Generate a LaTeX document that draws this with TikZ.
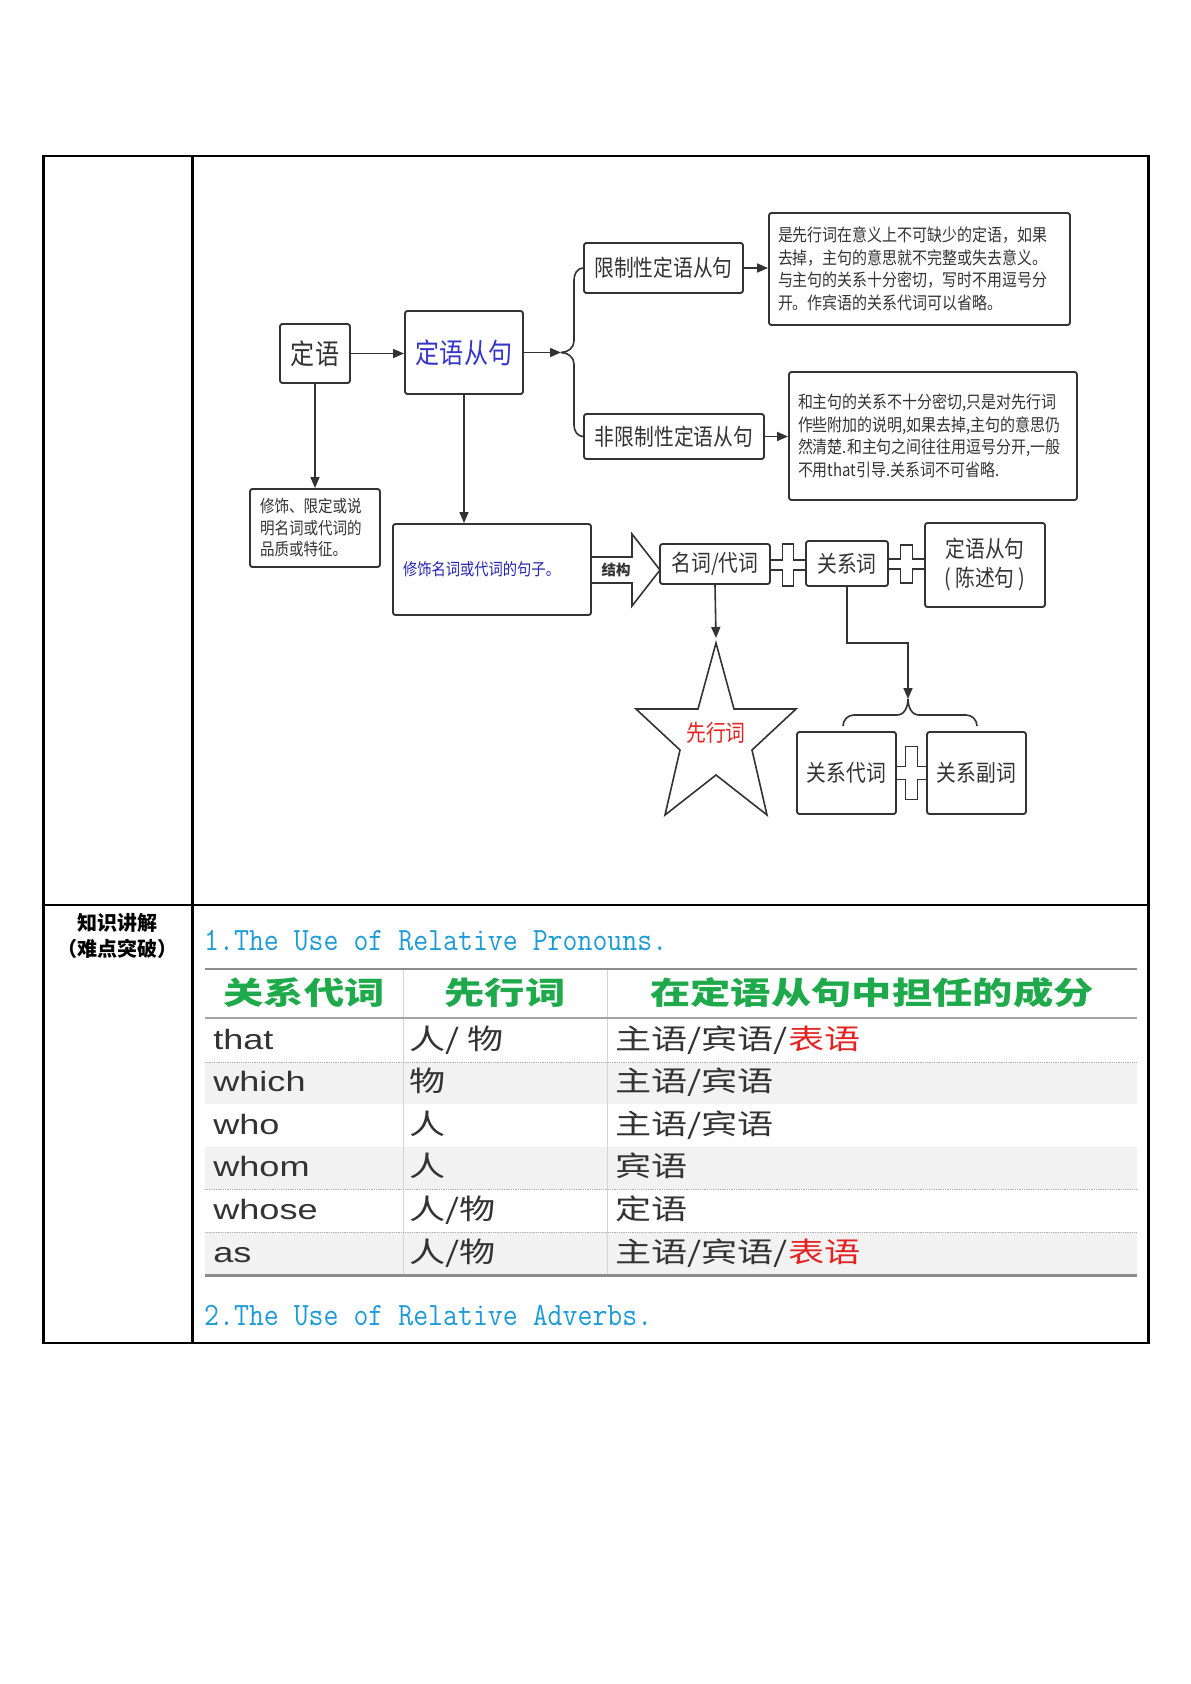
\documentclass[tikz,border=0pt]{standalone}
\usepackage{fontspec}
\setmainfont{Liberation Sans}
\newfontfamily\cjk{Noto Sans CJK SC}
\newfontfamily\cjkn{Noto Sans CJK SC}[FakeStretch=0.86]
\usetikzlibrary{arrows.meta}
\definecolor{bordc}{HTML}{333333}
\definecolor{txtc}{HTML}{333333}
\definecolor{blueA}{HTML}{3535C8}
\definecolor{blueB}{HTML}{2424B4}
\definecolor{redA}{HTML}{E52222}
\definecolor{greenH}{HTML}{1EAA4B}
\definecolor{titleC}{HTML}{1E9BD7}
\definecolor{rowg}{HTML}{F2F2F2}
\definecolor{lineg}{HTML}{8C8C8C}
\definecolor{colg}{HTML}{D4D4D4}
\tikzset{
  box/.style={draw=bordc, line width=1.9pt, rounded corners=2.5pt, inner sep=0pt, text=txtc, font=\cjkn\fontsize{23}{27}\selectfont},
  bigbox/.style={box, font=\cjkn\fontsize{28}{32}\selectfont},
  desc/.style={box, align=left, inner xsep=9pt, font=\cjkn\fontsize{17.4}{22.5}\selectfont},
  arr/.style={draw=bordc, line width=1.6pt, -{Triangle[length=11pt,width=9pt]}},
  conn/.style={draw=bordc, line width=1.6pt},
  cell/.style={anchor=base west, inner sep=0pt, text=txtc, font=\fontsize{28}{28}\selectfont, xscale=1.29},
  head/.style={anchor=base, inner sep=0pt, text=greenH, font=\cjk\bfseries\fontsize{31}{31}\selectfont, xscale=1.3},
  ttl/.style={anchor=base west, inner sep=0pt, text=titleC, font=\ttfamily\fontsize{29}{29}\selectfont, yscale=1.12},
}
\newcommand\crossmk[6]{%
  \draw[conn] ({#1-#3},{#2-#4}) -- ({#1-#5},{#2-#4}) -- ({#1-#5},{#2-#6}) -- ({#1+#5},{#2-#6}) -- ({#1+#5},{#2-#4}) -- ({#1+#3},{#2-#4}) -- ({#1+#3},{#2+#4}) -- ({#1+#5},{#2+#4}) -- ({#1+#5},{#2+#6}) -- ({#1-#5},{#2+#6}) -- ({#1-#5},{#2+#4}) -- ({#1-#3},{#2+#4}) -- cycle;}
\begin{document}
\begin{tikzpicture}[x=1pt,y=-1pt]
\useasboundingbox (0,0) rectangle (1191,1684);
% ---------- outer table ----------
\draw[line width=1.5pt] (43,156) -- (1148,156);
\draw[line width=1.5pt] (43,905) -- (1148,905);
\draw[line width=1.5pt] (43,1343) -- (1148,1343);
\draw[line width=3pt] (43,155) -- (43,1344);
\draw[line width=3pt] (192,155) -- (192,1344);
\draw[line width=3pt] (1148,155) -- (1148,1344);

% ---------- diagram ----------
\node[bigbox, minimum width=70pt, minimum height=59pt] (A) at (315,353.5) {定语};
\node[bigbox, minimum width=118pt, minimum height=83pt, text=blueA] (B) at (464,352.5) {定语从句};
\node[box, minimum width=159pt, minimum height=50pt] (C) at (663.5,268) {限制性定语从句};
\node[box, minimum width=180pt, minimum height=45pt] (E) at (674,436.5) {非限制性定语从句};
\node[desc, text width=283pt, minimum height=112pt] (D) at (919.5,269) {是先行词在意义上不可缺少的定语，如果\\去掉，主句的意思就不完整或失去意义。\\与主句的关系十分密切，写时不用逗号分\\开。作宾语的关系代词可以省略。};
\node[desc, text width=270pt, minimum height=128pt] (F) at (933,436) {和主句的关系不十分密切,只是对先行词\\作些附加的说明,如果去掉,主句的意思仍\\然清楚.和主句之间往往用逗号分开,一般\\不用that引导.关系词不可省略.};
\node[box, align=left, inner xsep=10pt, text width=110pt, minimum height=78pt, font=\cjkn\fontsize{16.9}{21.5}\selectfont] (G) at (315,528) {修饰、限定或说\\明名词或代词的\\品质或特征。};
\node[box, align=left, inner xsep=10pt, text width=178pt, minimum height=91pt, text=blueB, font=\cjkn\fontsize{16.6}{18}\selectfont] (H) at (492,569.5) {修饰名词或代词的句子。};
\node[box, minimum width=110pt, minimum height=40pt] (I) at (715,564) {名词/代词};
\node[box, minimum width=82pt, minimum height=45pt] (J) at (847,563.5) {关系词};
\node[box, minimum width=120pt, minimum height=84pt, align=center, font=\cjkn\fontsize{23}{29}\selectfont] (K) at (985,565) {定语从句\\(\hspace{4pt}陈述句\hspace{4pt})};
\node[box, minimum width=99pt, minimum height=82pt] (L) at (846.5,773) {关系代词};
\node[box, minimum width=99pt, minimum height=82pt] (M) at (976.5,773) {关系副词};

% connectors
\draw[arr] (A.east) -- (A.east -| B.west);
\coordinate (br1) at (561,352.5);
\draw[arr] (B.east) -- (br1);
\draw[conn] (br1) to[out=0,in=-90] (574,341) -- (574,280) to[out=90,in=180] (C.west);
\draw[conn] (br1) to[out=0,in=90] (574,364) -- (574,425) to[out=-90,in=180] (E.west);
\draw[arr] (C.east) -- (C.east -| D.west);
\draw[arr] (E.east) -- (E.east -| F.west);
\draw[arr] (A.south) -- (A.south |- G.north);
\draw[arr] (B.south) -- (B.south |- H.north);

% big hollow arrow
\draw[conn, line join=miter] (H.east |- 0,557) -- (632,557) -- (632,534) -- (660,570) -- (632,606) -- (632,583) -- (H.east |- 0,583);
\node[inner sep=0pt, text=txtc, font=\cjk\bfseries\fontsize{14.5}{14.5}\selectfont] (jg) at (616,570) {结构};

% plus marks
\crossmk{788}{565}{18}{5}{5.5}{21}
\crossmk{906.5}{564}{18.5}{5}{6}{19}
\crossmk{911.5}{773}{15.5}{6.5}{6}{26.5}

% star
\coordinate (startop) at (716,638);
\draw[arr] (I.south) -- (startop);
\draw[conn, line join=miter] (716,643) -- (734,709) -- (796,709) -- (752,750) -- (767,815) -- (716,775) -- (665,815) -- (680,750) -- (636,709) -- (698,709) -- cycle;
\node[inner sep=0pt, text=redA, font=\cjkn\fontsize{23}{27}\selectfont] (xxc) at (716,733) {先行词};

% relation word branch
\coordinate (br2) at (908,699);
\draw[arr] (J.south) -- ++(0,56) -| (br2);
\draw[conn] (br2) to[out=-90,in=0] (897,715) -- (854,715) to[out=180,in=90] (843,726);
\draw[conn] (br2) to[out=-90,in=180] (919,715) -- (966,715) to[out=0,in=90] (977,726);

% ---------- lower part ----------
\node[anchor=base, inner sep=0pt, font=\cjk\bfseries\fontsize{20}{20}\selectfont] (lab1) at (117.5,930) {知识讲解};
\node[anchor=base, inner sep=0pt, font=\cjk\bfseries\fontsize{20}{20}\selectfont] (lab2) at (117.5,956) {（难点突破）};

\node[ttl] (t1) at (204,950) {1.The Use of Relative Pronouns.};
\node[ttl] (t2) at (204,1325) {2.The Use of Relative Adverbs.};

% table rows
\fill[rowg] (205,1062) rectangle (1137,1104);
\fill[rowg] (205,1147) rectangle (1137,1189);
\fill[rowg] (205,1232) rectangle (1137,1275);
\draw[colg, line width=0.8pt] (403,969) -- (403,1275);
\draw[colg, line width=0.8pt] (607,969) -- (607,1275);
\draw[lineg, line width=2.5pt] (205,969) -- (1137,969);
\draw[lineg!80, line width=2pt] (205,1018) -- (1137,1018);
\foreach \yy in {1062,1189,1232} \draw[lineg!70, line width=0.8pt, densely dotted] (205,\yy) -- (1137,\yy);
\draw[lineg, line width=3pt] (205,1275) -- (1137,1275);

\node[head] (h1) at (304,1004) {关系代词};
\node[head] (h2) at (505,1004) {先行词};
\node[head] (h3) at (872,1004) {在定语从句中担任的成分};

\node[cell] (r1a) at (213,1049) {that};
\node[cell] (r1b) at (409,1049) {\cjk 人/ 物};
\node[cell] (r1c) at (615,1049) {\cjk 主语/宾语/\textcolor{redA}{表语}};
\node[cell] (r2a) at (213,1091) {which};
\node[cell] (r2b) at (409,1091) {\cjk 物};
\node[cell] (r2c) at (615,1091) {\cjk 主语/宾语};
\node[cell] (r3a) at (213,1134) {who};
\node[cell] (r3b) at (409,1134) {\cjk 人};
\node[cell] (r3c) at (615,1134) {\cjk 主语/宾语};
\node[cell] (r4a) at (213,1176) {whom};
\node[cell] (r4b) at (409,1176) {\cjk 人};
\node[cell] (r4c) at (615,1176) {\cjk 宾语};
\node[cell] (r5a) at (213,1219) {whose};
\node[cell] (r5b) at (409,1219) {\cjk 人/物};
\node[cell] (r5c) at (615,1219) {\cjk 定语};
\node[cell] (r6a) at (213,1262) {as};
\node[cell] (r6b) at (409,1262) {\cjk 人/物};
\node[cell] (r6c) at (615,1262) {\cjk 主语/宾语/\textcolor{redA}{表语}};
\end{tikzpicture}
\end{document}
